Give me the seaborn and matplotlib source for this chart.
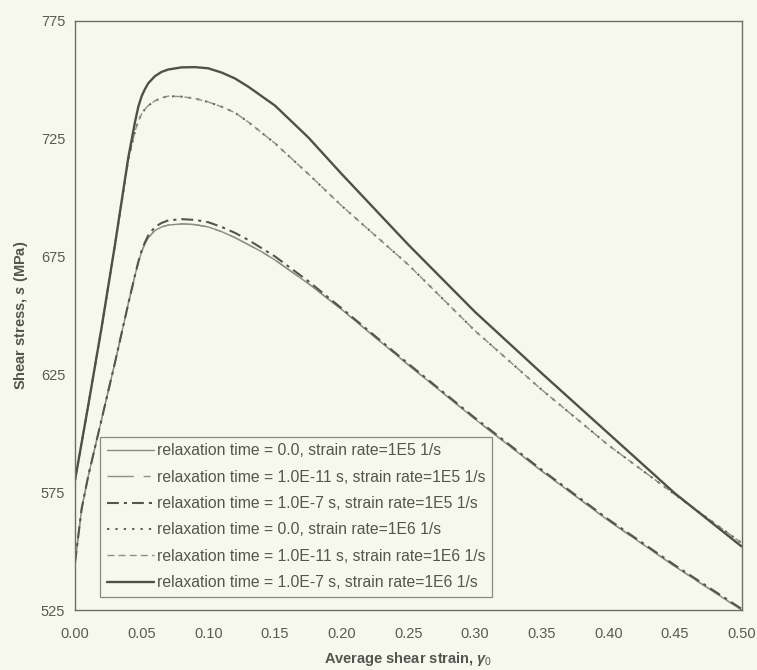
import matplotlib
matplotlib.use("Agg")
import matplotlib.pyplot as plt
import seaborn as sns
import pandas as pd

# ---- data ----
strain = [0.0, 0.005, 0.01, 0.02, 0.03, 0.04, 0.045, 0.0475, 0.05, 0.0525, 0.055, 0.06,
          0.065, 0.07, 0.08, 0.09, 0.10, 0.11, 0.12, 0.13, 0.14, 0.15, 0.175, 0.20,
          0.25, 0.30, 0.35, 0.40, 0.45, 0.50]

low_tau0_1e5 = [545, 568, 582, 606, 630, 655, 667, 672.5, 677, 680.5, 683, 686,
                687.5, 688.3, 688.8, 688.5, 687.5, 685.5, 683, 680, 677, 673.5, 663.5, 652.5,
                629, 606, 584, 563, 543.5, 525]
low_tau11_1e5 = [545, 568, 582, 606, 630, 655, 667, 672.5, 677, 680.5, 683, 686,
                 687.5, 688.3, 688.8, 688.5, 687.5, 685.5, 683, 680, 677, 673.5, 663.5, 652.5,
                 629, 606, 584, 563, 543.5, 525]
low_tau7_1e5 = [545, 568, 582, 606, 630, 655, 667, 672.7, 677.5, 681, 684, 687.5,
                689.2, 690.3, 690.8, 690.5, 689.5, 687.5, 685, 682, 678.5, 675, 664.5, 653,
                629.5, 606.5, 584.5, 563.5, 544, 525.5]
up_tau0_1e6 = [580, 596, 612, 645, 680, 716, 728, 732.5, 735.5, 737.5, 739, 741,
               742.3, 743, 742.8, 742, 740.5, 738.5, 736, 732, 727.5, 723, 710, 696.5,
               671.5, 643.5, 618.5, 595, 574, 553.5]
up_tau11_1e6 = [580, 596, 612, 645, 680, 716, 728, 732.5, 735.5, 737.5, 739, 741,
                742.3, 743, 742.8, 742, 740.5, 738.5, 736, 732, 727.5, 723, 710, 696.5,
                671.5, 643.5, 618.5, 595, 574, 553.5]
up_tau7_1e6 = [580, 596, 612, 645, 680, 717, 732, 738.5, 743, 746, 748.5, 751.5,
               753.3, 754.3, 755.2, 755.3, 754.8, 753, 750.5, 747, 743, 739, 725.5, 710,
               680, 651.5, 625.5, 600, 574.5, 552]

labels = [
    "relaxation time = 0.0, strain rate=1E5 1/s",
    "relaxation time = 1.0E-11 s, strain rate=1E5 1/s",
    "relaxation time = 1.0E-7 s, strain rate=1E5 1/s",
    "relaxation time = 0.0, strain rate=1E6 1/s",
    "relaxation time = 1.0E-11 s, strain rate=1E6 1/s",
    "relaxation time = 1.0E-7 s, strain rate=1E6 1/s",
]
series = [low_tau0_1e5, low_tau11_1e5, low_tau7_1e5, up_tau0_1e6, up_tau11_1e6, up_tau7_1e6]

xticks = [0.00, 0.05, 0.10, 0.15, 0.20, 0.25, 0.30, 0.35, 0.40, 0.45, 0.50]
yticks = [525, 575, 625, 675, 725, 775]

# ---- styles ----
styles = [
    dict(color="#8a8a84", lw=1.0, ls="-"),
    dict(color="#8f8f88", lw=1.0, ls=(0, (19, 7, 5, 7))),
    dict(color="#55554f", lw=1.5, ls=(0, (5.7, 2.4, 1.5, 2.4))),
    dict(color="#60605a", lw=1.4, ls=(0, (1.2, 3.1))),
    dict(color="#8f8f88", lw=1.0, ls=(0, (5, 3))),
    dict(color="#50504a", lw=1.7, ls="-"),
]

sns.set_style("white")
plt.rcParams["font.family"] = ["Liberation Sans", "DejaVu Sans"]
plt.rcParams["mathtext.fontset"] = "custom"
plt.rcParams["mathtext.rm"] = "Liberation Sans"
plt.rcParams["mathtext.it"] = "Liberation Sans:italic:bold"

bg = "#f6f8ee"
fig = plt.figure(figsize=(7.57, 6.70), dpi=100, facecolor=bg)
ax = fig.add_axes([75 / 757, 1 - 610 / 670, 666.5 / 757, 589.3 / 670])
ax.set_facecolor(bg)

for lab, vals, st in zip(labels, series, styles):
    df = pd.DataFrame({"strain": strain, "stress": vals})
    sns.lineplot(data=df, x="strain", y="stress", ax=ax, label=lab,
                 color=st["color"], linewidth=st["lw"], linestyle=st["ls"],
                 sort=False)

ax.set_xlim(0, 0.5)
ax.set_ylim(525, 775)
ax.set_xticks(xticks)
ax.set_xticklabels([f"{t:.2f}" for t in xticks])
ax.set_yticks(yticks)
ax.set_yticklabels([str(t) for t in yticks])

for sp in ax.spines.values():
    sp.set_visible(True)
    sp.set_color("#6e6e68")
    sp.set_linewidth(1.0)

ax.tick_params(axis="both", colors="#6e6e68", labelcolor="#5a5a55", labelsize=10.5,
               direction="out", length=4, width=0.9)
ax.tick_params(axis="x", pad=8)
ax.tick_params(axis="y", pad=3)

ax.set_xlabel(r"Average shear strain, $\gamma_0$", fontsize=10.5, fontweight="bold",
              color="#55554f", labelpad=7)
ax.set_ylabel(r"Shear stress, $s$ (MPa)", fontsize=10.5, fontweight="bold",
              color="#55554f", labelpad=8)

leg = ax.legend(loc="upper left", bbox_to_anchor=(0.0375, 0.294), frameon=True,
                fancybox=False, edgecolor="#8a8a84", facecolor=bg, framealpha=1,
                fontsize=11.3, handlelength=3.0, handletextpad=0.2, labelspacing=0.72,
                borderpad=0.43, borderaxespad=0)
leg.get_frame().set_linewidth(0.9)
for t in leg.get_texts():
    t.set_color("#55554f")

fig.savefig("out.png", dpi=100, facecolor=bg)
